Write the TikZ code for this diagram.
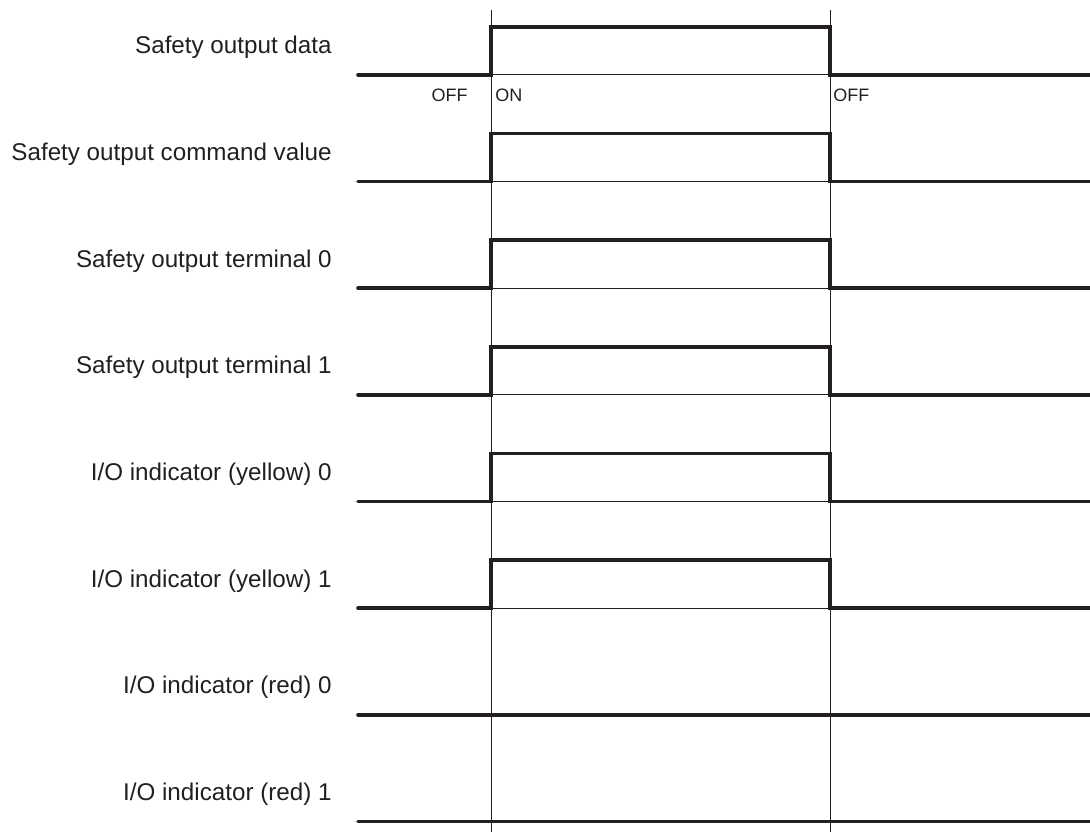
\documentclass[tikz,border=0pt]{standalone}
\usepackage{fontspec}
\setmainfont{Liberation Sans}
\usepackage{xcolor}
\usepackage{tikz}
\usetikzlibrary{positioning,calc}
\definecolor{ink}{HTML}{231F20}

\begin{document}
\begin{tikzpicture}[
  x=0.5pt,y=-0.5pt,
  font=\fontsize{12.1}{14}\selectfont,
  rowlabel/.style={anchor=base east,text=ink,inner sep=0pt},
  statelabel/.style={font=\fontsize{9}{10}\selectfont,text=ink,inner sep=0pt},
  sig/.style={line width=1.8pt,draw=ink,line cap=round},
  thin/.style={line width=0.5pt,draw=ink}
]
\useasboundingbox (0,0) rectangle (1090,832);
% switching instants
\coordinate (ton) at (491,10);
\coordinate (toff) at (830,10);
\draw[thin] (ton) -- (ton |- 0,832);
\draw[thin] (toff) -- (toff |- 0,832);
% one row per signal
\foreach \lab/\p [count=\i from 0] in {
    {Safety output data}/1,
    {Safety output command value}/1,
    {Safety output terminal 0}/1,
    {Safety output terminal 1}/1,
    {I/O indicator (yellow) 0}/1,
    {I/O indicator (yellow) 1}/1,
    {I/O indicator (red) 0}/0,
    {I/O indicator (red) 1}/0}{
  \pgfmathsetmacro\yb{74.7+106.7*\i}
  \node[rowlabel] (sig\i) at (332,\yb-21) {\lab};
  \ifnum\p=1
    \draw[sig] (358,\yb) -| (491,\yb-48) -| (830,\yb) -- (1090,\yb);
    \draw[thin] (491,\yb) -- (830,\yb);
  \else
    \draw[sig] (358,\yb) -- (1090,\yb);
  \fi
}
% states under the first row
\node[statelabel,anchor=base east] (off1) at (468,101) {OFF};
\node[statelabel,anchor=base west] (on1) at (495,101) {ON};
\node[statelabel,anchor=base west] (off2) at (833,101) {OFF};
\end{tikzpicture}
\end{document}
